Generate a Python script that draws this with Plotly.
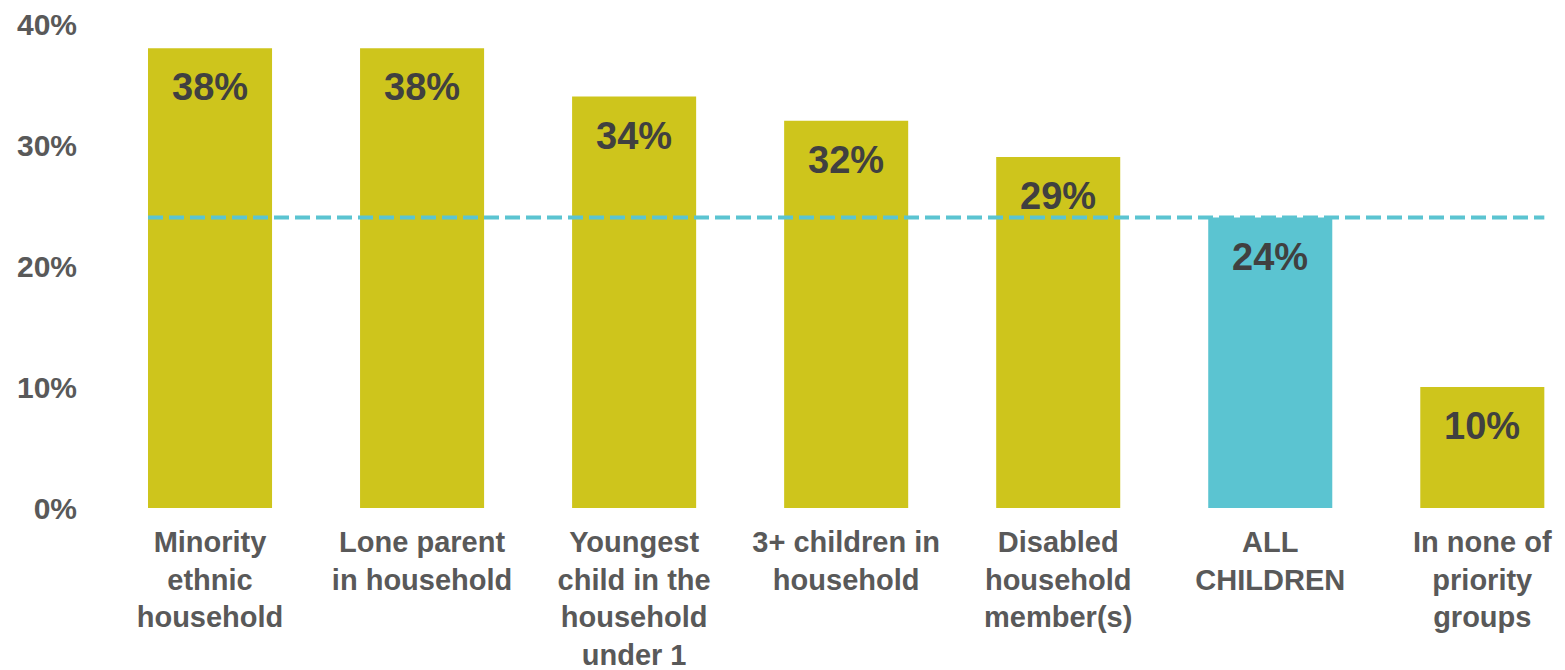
import plotly.graph_objects as go

categories = [
    "Minority<br>ethnic<br>household",
    "Lone parent<br>in household",
    "Youngest<br>child in the<br>household<br>under 1",
    "3+ children in<br>household",
    "Disabled<br>household<br>member(s)",
    "ALL<br>CHILDREN",
    "In none of<br>priority<br>groups",
]
values = [38, 38, 34, 32, 29, 24, 10]
highlight = "ALL<br>CHILDREN"
y_ticks = [0, 10, 20, 30, 40]
y_tick_text = ["0%", "10%", "20%", "30%", "40%"]

OLIVE = "#CEC51C"
TEAL = "#5BC4D1"
colors = [TEAL if c == highlight else OLIVE for c in categories]
avg_value = values[categories.index(highlight)]

fig = go.Figure()
fig.add_trace(go.Bar(
    x=categories, y=values, marker=dict(color=colors, line=dict(width=0)),
    hoverinfo="skip",
))

for c, v in zip(categories, values):
    fig.add_annotation(
        x=c, y=v, text=f"{v}%", showarrow=False, yanchor="top", yshift=-16,
        font=dict(family="Liberation Sans", size=38, color="#404040", weight="bold"),
    )

bar_w = 0.585
fig.add_shape(
    type="line", xref="x", yref="y",
    x0=-bar_w / 2, x1=len(categories) - 1 + bar_w / 2, y0=avg_value, y1=avg_value,
    line=dict(color=TEAL, width=4, dash="15px,6px"), layer="above",
)

fig.update_layout(
    width=1565, height=670,
    margin=dict(l=104, r=0, t=24, b=162),
    paper_bgcolor="white", plot_bgcolor="white",
    bargap=1 - bar_w,
    showlegend=False,
    font=dict(family="Liberation Sans", color="#595959"),
)
fig.update_xaxes(
    range=[-0.5, 6.39], showgrid=False, zeroline=False, showline=False, ticks="",
    tickfont=dict(family="Liberation Sans", size=29, color="#595959", weight="bold"),
    ticklabelstandoff=14,
)
fig.update_yaxes(
    range=[0, 40], tickvals=y_ticks, ticktext=y_tick_text,
    showgrid=False, zeroline=False, showline=False, ticks="",
    tickfont=dict(family="Liberation Sans", size=30, color="#595959", weight="bold"),
    ticklabelstandoff=26,
)

fig.write_html("out.html")
